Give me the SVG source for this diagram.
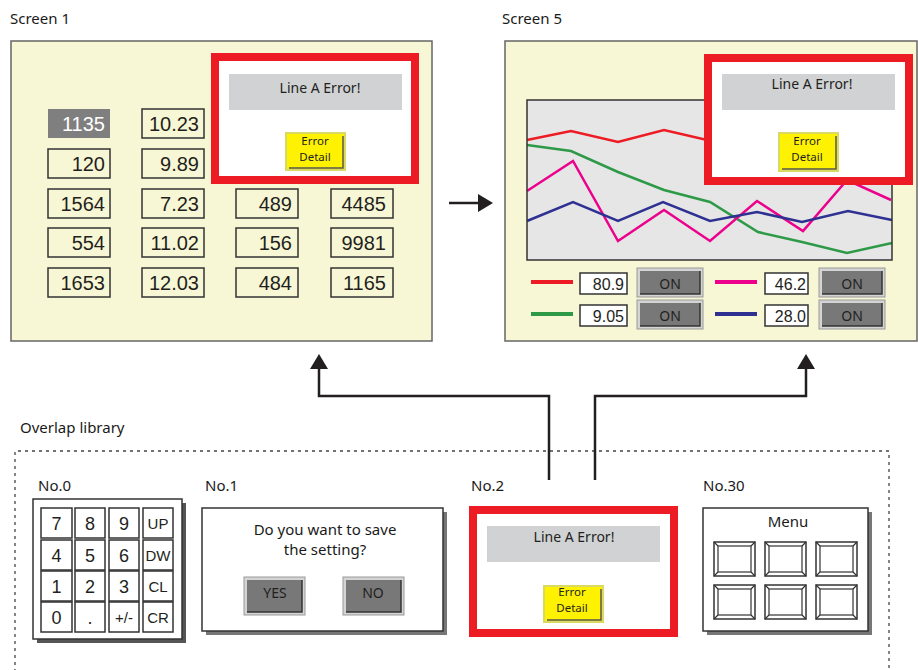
<svg xmlns="http://www.w3.org/2000/svg" width="918" height="670" viewBox="0 0 918 670">
<defs>
<style>
.lbl{font-family:"Noto Sans","Open Sans",sans-serif;font-size:15px;fill:#1a1a1a}
.num{font-family:"Liberation Sans",Arial,sans-serif;font-size:20px;fill:#231f20;text-anchor:end}
.val{font-family:"Liberation Sans",Arial,sans-serif;font-size:16px;fill:#231f20;text-anchor:end}
.key{font-family:"Liberation Sans",Arial,sans-serif;font-size:18px;fill:#231f20;text-anchor:middle}
.keys{font-family:"Liberation Sans",Arial,sans-serif;font-size:15px;fill:#231f20;text-anchor:middle}
.nb{fill:none;stroke:#333;stroke-width:1.5}
.vb{fill:#fff;stroke:#333;stroke-width:1.5}
.panel{fill:#f8f7d5;stroke:#666;stroke-width:1.5}
.redbox{fill:#fff;stroke:#ed1c24;stroke-width:8}
.bar{fill:#d1d2d4}
.err{font-family:"Noto Sans","Open Sans",sans-serif;font-size:14px;fill:#231f20;text-anchor:middle}
.ybtn{fill:#fff200;stroke:#dada62;stroke-width:2}
.ysh{fill:none;stroke:#555;stroke-width:1.5}
.ed{font-family:"Noto Sans","Open Sans",sans-serif;font-size:11.5px;fill:#231f20;text-anchor:middle}
.gout{fill:#d4d4d4;stroke:#999;stroke-width:1}
.gin{fill:#787878}
.gsh{fill:none;stroke:#333;stroke-width:1.5}
.on{font-family:"Noto Sans","Open Sans",sans-serif;font-size:14px;fill:#231f20;text-anchor:middle}
.kb{fill:#fff;stroke:#333;stroke-width:1.5}
.conn{fill:none;stroke:#231f20;stroke-width:2.5}
.ln{fill:none;stroke-width:2.5;stroke-linejoin:miter}
.mb{fill:#fff;stroke:#333;stroke-width:1.5}
.mi{fill:none;stroke:#333;stroke-width:1.2}
</style>
<marker id="ah" markerUnits="userSpaceOnUse" markerWidth="16" markerHeight="18" refX="0" refY="9" orient="auto">
<path d="M0,0 L15,9 L0,18 z" fill="#231f20"/>
</marker>
</defs>
<rect width="918" height="670" fill="#fff"/>

<text class="lbl" x="10" y="24">Screen 1</text>
<text class="lbl" x="502" y="24">Screen 5</text>

<g id="screen1">
<rect class="panel" x="11" y="41" width="421" height="300"/>
<rect x="48" y="109" width="62" height="29" fill="#7f7f80"/>
<text class="num" x="105" y="131" style="fill:#fff">1135</text>
<rect class="nb" x="48" y="149" width="62" height="29"/><text class="num" x="105" y="171">120</text>
<rect class="nb" x="48" y="189" width="62" height="29"/><text class="num" x="105" y="211">1564</text>
<rect class="nb" x="48" y="228" width="62" height="29"/><text class="num" x="105" y="250">554</text>
<rect class="nb" x="48" y="268" width="62" height="29"/><text class="num" x="105" y="290">1653</text>
<rect class="nb" x="142" y="109" width="62" height="29"/><text class="num" x="199" y="131">10.23</text>
<rect class="nb" x="142" y="149" width="62" height="29"/><text class="num" x="199" y="171">9.89</text>
<rect class="nb" x="142" y="189" width="62" height="29"/><text class="num" x="199" y="211">7.23</text>
<rect class="nb" x="142" y="228" width="62" height="29"/><text class="num" x="199" y="250">11.02</text>
<rect class="nb" x="142" y="268" width="62" height="29"/><text class="num" x="199" y="290">12.03</text>
<rect class="nb" x="236" y="189" width="62" height="29"/><text class="num" x="292" y="211">489</text>
<rect class="nb" x="236" y="228" width="62" height="29"/><text class="num" x="292" y="250">156</text>
<rect class="nb" x="236" y="268" width="62" height="29"/><text class="num" x="292" y="290">484</text>
<rect class="nb" x="331" y="189" width="62" height="29"/><text class="num" x="386" y="211">4485</text>
<rect class="nb" x="331" y="228" width="62" height="29"/><text class="num" x="386" y="250">9981</text>
<rect class="nb" x="331" y="268" width="62" height="29"/><text class="num" x="386" y="290">1165</text>
<rect class="redbox" x="215" y="57" width="200" height="123"/>
<rect class="bar" x="229" y="74" width="173" height="36"/>
<text class="err" x="320" y="93">Line A Error!</text>
<rect class="ybtn" x="286" y="133" width="59" height="37"/>
<polyline class="ysh" points="289,168 343,168 343,136"/>
<text class="ed" x="315" y="145">Error</text>
<text class="ed" x="315" y="161">Detail</text>
</g>

<g id="screen5">
<rect class="panel" x="505" y="41" width="412" height="300"/>
<rect x="527" y="100" width="365" height="160" fill="#e6e6e6"/>
<polyline class="ln" stroke="#ed1c24" points="527,140 571,131 618,142 664,130 707,140 757,130 802,142 848,128 892,138"/>
<polyline class="ln" stroke="#2e9a48" points="527,145 571,151 618,172 664,190 710,202 758,232 802,242 847,253 892,243"/>
<polyline class="ln" stroke="#ec008c" points="527,191 573,161 618,241 664,210 710,241 757,201 803,231 847,180 891,200"/>
<polyline class="ln" stroke="#2e3192" points="527,221 573,202 618,221 663,202 710,221 757,212 802,222 848,211 892,220"/>
<rect x="527" y="100" width="365" height="160" fill="none" stroke="#333" stroke-width="1.5"/>
<rect class="redbox" x="708" y="58" width="201" height="123"/>
<rect class="bar" x="722" y="74" width="173" height="36"/>
<text class="err" x="812" y="89">Line A Error!</text>
<rect class="ybtn" x="779" y="133" width="59" height="38"/>
<polyline class="ysh" points="782,169 836,169 836,136"/>
<text class="ed" x="807" y="145">Error</text>
<text class="ed" x="807" y="161">Detail</text>
<line x1="531" y1="282" x2="573" y2="282" stroke="#ed1c24" stroke-width="4"/>
<line x1="531" y1="314" x2="573" y2="314" stroke="#2e9a48" stroke-width="4"/>
<line x1="715" y1="282" x2="757" y2="282" stroke="#ec008c" stroke-width="4"/>
<line x1="715" y1="314" x2="757" y2="314" stroke="#2e3192" stroke-width="4"/>
<rect class="vb" x="580" y="273" width="47" height="21"/><text class="val" x="624" y="290">80.9</text>
<rect class="vb" x="580" y="305" width="47" height="21"/><text class="val" x="624" y="322">9.05</text>
<rect class="vb" x="765" y="273" width="43" height="21"/><text class="val" x="806" y="290">46.2</text>
<rect class="vb" x="765" y="305" width="43" height="21"/><text class="val" x="806" y="322">28.0</text>
<rect class="gout" x="637" y="268" width="66" height="29"/><rect class="gin" x="640" y="271" width="60" height="23"/><polyline class="gsh" points="640,294 700,294 700,271"/><text class="on" x="670" y="289">ON</text>
<rect class="gout" x="637" y="300" width="66" height="29"/><rect class="gin" x="640" y="303" width="60" height="23"/><polyline class="gsh" points="640,326 700,326 700,303"/><text class="on" x="670" y="321">ON</text>
<rect class="gout" x="819" y="268" width="66" height="29"/><rect class="gin" x="822" y="271" width="60" height="23"/><polyline class="gsh" points="822,294 882,294 882,271"/><text class="on" x="852" y="289">ON</text>
<rect class="gout" x="819" y="300" width="66" height="29"/><rect class="gin" x="822" y="303" width="60" height="23"/><polyline class="gsh" points="822,326 882,326 882,303"/><text class="on" x="852" y="321">ON</text>
</g>

<g id="overlap-library">
<text class="lbl" x="20" y="433">Overlap library</text>
<path d="M15,672 V451 H889 V672" fill="none" stroke="#444" stroke-width="1.3" stroke-dasharray="3 4"/>
</g>

<g id="no0">
<text class="lbl" x="38" y="491">No.0</text>
<rect x="37" y="503" width="149" height="140" fill="#555"/>
<rect class="kb" x="33" y="499" width="149" height="140"/>
<rect class="kb" x="41" y="508" width="31" height="30"/><text class="key" x="56.5" y="530">7</text>
<rect class="kb" x="75" y="508" width="30" height="30"/><text class="key" x="90" y="530">8</text>
<rect class="kb" x="109" y="508" width="30" height="30"/><text class="key" x="124" y="530">9</text>
<rect class="kb" x="143" y="508" width="30" height="30"/><text class="keys" x="158" y="529">UP</text>
<rect class="kb" x="41" y="540" width="31" height="30"/><text class="key" x="56.5" y="562">4</text>
<rect class="kb" x="75" y="540" width="30" height="30"/><text class="key" x="90" y="562">5</text>
<rect class="kb" x="109" y="540" width="30" height="30"/><text class="key" x="124" y="562">6</text>
<rect class="kb" x="143" y="540" width="30" height="30"/><text class="keys" x="158" y="561">DW</text>
<rect class="kb" x="41" y="571" width="31" height="30"/><text class="key" x="56.5" y="593">1</text>
<rect class="kb" x="75" y="571" width="30" height="30"/><text class="key" x="90" y="593">2</text>
<rect class="kb" x="109" y="571" width="30" height="30"/><text class="key" x="124" y="593">3</text>
<rect class="kb" x="143" y="571" width="30" height="30"/><text class="keys" x="158" y="592">CL</text>
<rect class="kb" x="41" y="602" width="31" height="30"/><text class="key" x="56.5" y="624">0</text>
<rect class="kb" x="75" y="602" width="30" height="30"/><text class="key" x="90" y="624">.</text>
<rect class="kb" x="109" y="602" width="30" height="30"/><text class="keys" x="124" y="623">+/-</text>
<rect class="kb" x="143" y="602" width="30" height="30"/><text class="keys" x="158" y="623">CR</text>
</g>

<g id="no1">
<text class="lbl" x="205" y="491">No.1</text>
<rect x="206" y="512" width="241" height="123" fill="#777"/>
<rect class="kb" x="202" y="508" width="241" height="123"/>
<text class="lbl" x="325" y="535" text-anchor="middle">Do you want to save</text>
<text class="lbl" x="325" y="555" text-anchor="middle">the setting?</text>
<rect class="gout" x="244" y="577" width="61" height="38"/><rect class="gin" x="247" y="580" width="55" height="32"/><polyline class="gsh" points="247,612 302,612 302,580"/><text class="on" x="275" y="598">YES</text>
<rect class="gout" x="343" y="577" width="61" height="38"/><rect class="gin" x="346" y="580" width="55" height="32"/><polyline class="gsh" points="346,612 401,612 401,580"/><text class="on" x="373" y="598">NO</text>
</g>

<g id="no2">
<text class="lbl" x="471" y="491">No.2</text>
<rect class="redbox" x="473" y="510" width="201" height="123"/>
<rect class="bar" x="487" y="526" width="173" height="36"/>
<text class="err" x="574" y="542">Line A Error!</text>
<rect class="ybtn" x="544" y="586" width="59" height="36"/>
<polyline class="ysh" points="547,620 601,620 601,589"/>
<text class="ed" x="572" y="596">Error</text>
<text class="ed" x="572" y="612">Detail</text>
</g>

<g id="no30">
<text class="lbl" x="703" y="491">No.30</text>
<rect x="707" y="512" width="165" height="123" fill="#777"/>
<rect class="kb" x="703" y="508" width="165" height="123"/>
<text class="lbl" x="788" y="527" text-anchor="middle">Menu</text>
<g>
<rect class="mb" x="714" y="542" width="41" height="34"/><rect class="mi" x="718" y="546" width="33" height="26"/><path class="mi" d="M714,542 L718,546 M755,542 L751,546 M714,576 L718,572 M755,576 L751,572"/>
<rect class="mb" x="765" y="542" width="41" height="34"/><rect class="mi" x="769" y="546" width="33" height="26"/><path class="mi" d="M765,542 L769,546 M806,542 L802,546 M765,576 L769,572 M806,576 L802,572"/>
<rect class="mb" x="816" y="542" width="41" height="34"/><rect class="mi" x="820" y="546" width="33" height="26"/><path class="mi" d="M816,542 L820,546 M857,542 L853,546 M816,576 L820,572 M857,576 L853,572"/>
<rect class="mb" x="714" y="585" width="41" height="34"/><rect class="mi" x="718" y="589" width="33" height="26"/><path class="mi" d="M714,585 L718,589 M755,585 L751,589 M714,619 L718,615 M755,619 L751,615"/>
<rect class="mb" x="765" y="585" width="41" height="34"/><rect class="mi" x="769" y="589" width="33" height="26"/><path class="mi" d="M765,585 L769,589 M806,585 L802,589 M765,619 L769,615 M806,619 L802,615"/>
<rect class="mb" x="816" y="585" width="41" height="34"/><rect class="mi" x="820" y="589" width="33" height="26"/><path class="mi" d="M816,585 L820,589 M857,585 L853,589 M816,619 L820,615 M857,619 L853,615"/>
</g>
</g>

<g id="connectors">
<path class="conn" d="M449,203 H478" marker-end="url(#ah)"/>
<path class="conn" d="M549,480 V396 H319 V369" marker-end="url(#ah)"/>
<path class="conn" d="M595,480 V396 H806 V369" marker-end="url(#ah)"/>
</g>
</svg>
